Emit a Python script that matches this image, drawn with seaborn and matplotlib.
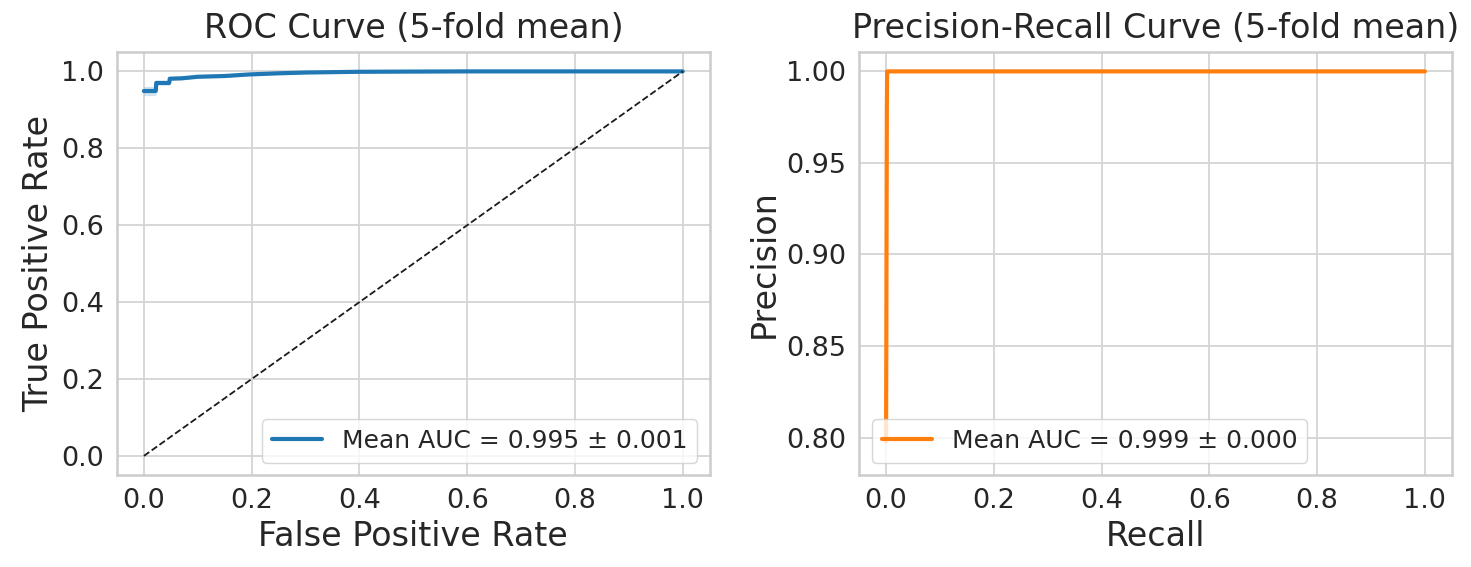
import matplotlib
matplotlib.use("Agg")
import matplotlib.pyplot as plt
import numpy as np
import pandas as pd
import seaborn as sns

# ROC mean curve across 5 folds
mean_fpr = [0.0, 0.022, 0.023, 0.047, 0.048, 0.07, 0.1, 0.15, 0.195, 0.25, 0.3, 0.4, 0.6, 1.0]
mean_tpr = [0.949, 0.949, 0.970, 0.970, 0.981, 0.982, 0.986, 0.988, 0.992, 0.995, 0.997, 0.999, 1.0, 1.0]
tpr_std = [0.012, 0.012, 0.006, 0.006, 0.004, 0.004, 0.003, 0.003, 0.002, 0.002, 0.001, 0.001, 0.0, 0.0]
roc_label = "Mean AUC = 0.995 ± 0.001"

# PR mean curve across 5 folds
mean_recall = [0.0, 0.0005, 0.001, 0.0015, 0.002, 0.5, 1.0]
mean_precision = [0.798, 0.85, 0.92, 0.98, 1.0, 1.0, 1.0]
precision_std = [0.008, 0.01, 0.006, 0.003, 0.0, 0.0, 0.0]
pr_label = "Mean AUC = 0.999 ± 0.000"

sns.set_theme(style="whitegrid")
plt.rcParams["font.family"] = ["DejaVu Sans"]
plt.rcParams["grid.linewidth"] = 1.3
plt.rcParams["grid.color"] = "#d4d4d4"

fig, axes = plt.subplots(1, 2, figsize=(14.71, 5.67), dpi=100)

roc = pd.DataFrame({"fpr": mean_fpr, "tpr": mean_tpr, "std": tpr_std})
ax = axes[0]
sns.lineplot(data=roc, x="fpr", y="tpr", ax=ax, color="#1f77b4", lw=3, label=roc_label)
ax.fill_between(roc["fpr"], roc["tpr"] - roc["std"], np.minimum(roc["tpr"] + roc["std"], 1.0),
                color="#1f77b4", alpha=0.2, lw=0)
ax.plot([0, 1], [0, 1], "k--", lw=1.3)
ax.set_title("ROC Curve (5-fold mean)", fontsize=24, pad=10)
ax.set_xlabel("False Positive Rate", fontsize=24)
ax.set_ylabel("True Positive Rate", fontsize=24)
ax.legend(loc="lower right", fontsize=18)

pr = pd.DataFrame({"recall": mean_recall, "precision": mean_precision, "std": precision_std})
ax = axes[1]
sns.lineplot(data=pr, x="recall", y="precision", ax=ax, color="#ff7f0e", lw=3, label=pr_label)
ax.fill_between(pr["recall"], pr["precision"] - pr["std"], np.minimum(pr["precision"] + pr["std"], 1.0),
                color="#ff7f0e", alpha=0.2, lw=0)
ax.set_title("Precision-Recall Curve (5-fold mean)", fontsize=24, pad=10)
ax.set_xlabel("Recall", fontsize=24)
ax.set_ylabel("Precision", fontsize=24)
ax.set_yticks([0.80, 0.85, 0.90, 0.95, 1.00])
ax.legend(loc="lower left", fontsize=18)

for a in axes:
    a.tick_params(labelsize=19.5)
    for s in a.spines.values():
        s.set_color("#cccccc")
        s.set_linewidth(1.8)

plt.subplots_adjust(left=0.0795, right=0.987, top=0.908, bottom=0.162, wspace=0.252)
plt.savefig("out.png")
